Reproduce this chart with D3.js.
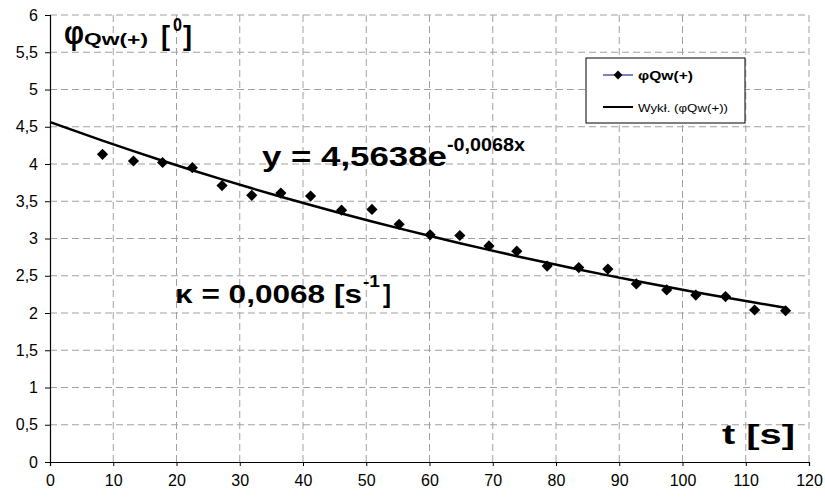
<!DOCTYPE html>
<html>
<head>
<meta charset="utf-8">
<script src="https://cdn.jsdelivr.net/npm/d3@7"></script>
<style>
  body { margin: 0; background: #fff; }
  svg { display: block; font-family: "Liberation Sans", Arial, sans-serif; }
</style>
</head>
<body>
<div id="chart"></div>
<script>
// measured decay: time t [s] and angle phi [deg]
const tValues = [8.3, 13.2, 17.8, 22.5, 27.2, 31.9, 36.5, 41.2, 46.1, 50.9, 55.2, 60.1,
  64.8, 69.4, 73.8, 78.6, 83.6, 88.2, 92.7, 97.5, 102.1, 106.8, 111.4, 116.3];
const phiValues = [4.13, 4.04, 4.02, 3.95, 3.71, 3.58, 3.61, 3.57, 3.38, 3.39, 3.19, 3.05,
  3.04, 2.90, 2.83, 2.63, 2.61, 2.59, 2.39, 2.31, 2.24, 2.22, 2.04, 2.03];
const xTicks = [0, 10, 20, 30, 40, 50, 60, 70, 80, 90, 100, 110, 120];
const yTicks = [0, 0.5, 1, 1.5, 2, 2.5, 3, 3.5, 4, 4.5, 5, 5.5, 6];
// exponential trendline (Excel "Wykł.") coefficients
const fitA = 4.5638;
const fitK = 0.0068;

const width = 825, height = 500;
const margin = { top: 15, right: 16, bottom: 38, left: 50 };

const svg = d3.select("#chart").append("svg")
  .attr("width", width)
  .attr("height", height);

const x = d3.scaleLinear().domain([0, 120]).range([margin.left, width - margin.right]);
const y = d3.scaleLinear().domain([0, 6]).range([height - margin.bottom, margin.top]);

const pl = d3.formatLocale({ decimal: ",", thousands: " ", grouping: [3], currency: ["", ""] });
const fmt = pl.format("~g");

// dashed grid
svg.append("g").selectAll("line").data(xTicks.slice(1)).join("line")
  .attr("x1", d => x(d)).attr("x2", d => x(d))
  .attr("y1", y(0)).attr("y2", y(6))
  .attr("stroke", "#a0a0a0").attr("stroke-dasharray", "7,4");
svg.append("g").selectAll("line").data(yTicks.slice(1)).join("line")
  .attr("x1", x(0)).attr("x2", x(120))
  .attr("y1", d => y(d)).attr("y2", d => y(d))
  .attr("stroke", "#a0a0a0").attr("stroke-dasharray", "7,4");

// axes
const xAxis = svg.append("g")
  .attr("transform", `translate(0,${y(0)})`)
  .call(d3.axisBottom(x).tickValues(xTicks).tickSize(4).tickPadding(9).tickFormat(fmt));
const yAxis = svg.append("g")
  .attr("transform", `translate(${x(0)},0)`)
  .call(d3.axisLeft(y).tickValues(yTicks).tickSize(5).tickPadding(7).tickFormat(fmt));
[xAxis, yAxis].forEach(a => {
  a.select(".domain").attr("stroke", "#000").attr("stroke-width", 1.2);
  a.selectAll(".tick line").attr("stroke", "#000");
  a.selectAll("text").attr("font-size", 16).attr("fill", "#000")
    .attr("font-family", "'Liberation Sans', Arial, sans-serif");
});

// trendline
const trend = [0].concat(tValues).map(t => [t, fitA * Math.exp(-fitK * t)]);
svg.append("path")
  .datum(trend)
  .attr("fill", "none")
  .attr("stroke", "#000")
  .attr("stroke-width", 2.5)
  .attr("d", d3.line().x(d => x(d[0])).y(d => y(d[1])).curve(d3.curveMonotoneX));

// markers
const diamond = d3.symbol().type(d3.symbolDiamond2).size(80);
svg.append("g").selectAll("path").data(tValues).join("path")
  .attr("transform", (d, i) => `translate(${x(d)},${y(phiValues[i])})`)
  .attr("d", diamond)
  .attr("fill", "#000");

// legend
const lg = svg.append("g").attr("transform", "translate(586,58)");
lg.append("rect").attr("width", 159).attr("height", 65)
  .attr("fill", "#fff").attr("stroke", "#000");
lg.append("line").attr("x1", 17).attr("x2", 47).attr("y1", 17).attr("y2", 17)
  .attr("stroke", "#000080").attr("stroke-width", 1);
lg.append("path").attr("transform", "translate(32,17)")
  .attr("d", d3.symbol().type(d3.symbolDiamond2).size(50)).attr("fill", "#000");
lg.append("text").attr("x", 52).attr("y", 22).attr("font-size", 13).attr("font-weight", "bold")
  .attr("textLength", 55).attr("lengthAdjust", "spacingAndGlyphs")
  .text("φQw(+)");
lg.append("line").attr("x1", 17).attr("x2", 47).attr("y1", 49).attr("y2", 49)
  .attr("stroke", "#000").attr("stroke-width", 2);
lg.append("text").attr("x", 52).attr("y", 54).attr("font-size", 11.5)
  .attr("textLength", 90).attr("lengthAdjust", "spacingAndGlyphs")
  .text("Wykł. (φQw(+))");

// annotations, stretched to the widths seen in the picture
function label(tx, ty, size, len, str) {
  svg.append("text").attr("x", tx).attr("y", ty)
    .attr("font-size", size).attr("font-weight", "bold").attr("fill", "#000")
    .attr("textLength", len).attr("lengthAdjust", "spacingAndGlyphs")
    .text(str);
}
label(64, 44, 34, 20, "φ");
label(84, 45, 17, 64, "Qw(+)");
label(161, 45, 28, 9, "[");
label(173, 31, 18, 9, "0");
label(183, 45, 28, 9, "]");

label(262, 166, 28, 185, "y = 4,5638e");
label(447, 151, 18, 78, "-0,0068x");

label(175, 303, 26, 187, "κ = 0,0068 [s");
label(363, 287, 17, 17, "-1");
label(383, 303, 26, 8, "]");

label(722, 444, 28, 73, "t [s]");
</script>
</body>
</html>
